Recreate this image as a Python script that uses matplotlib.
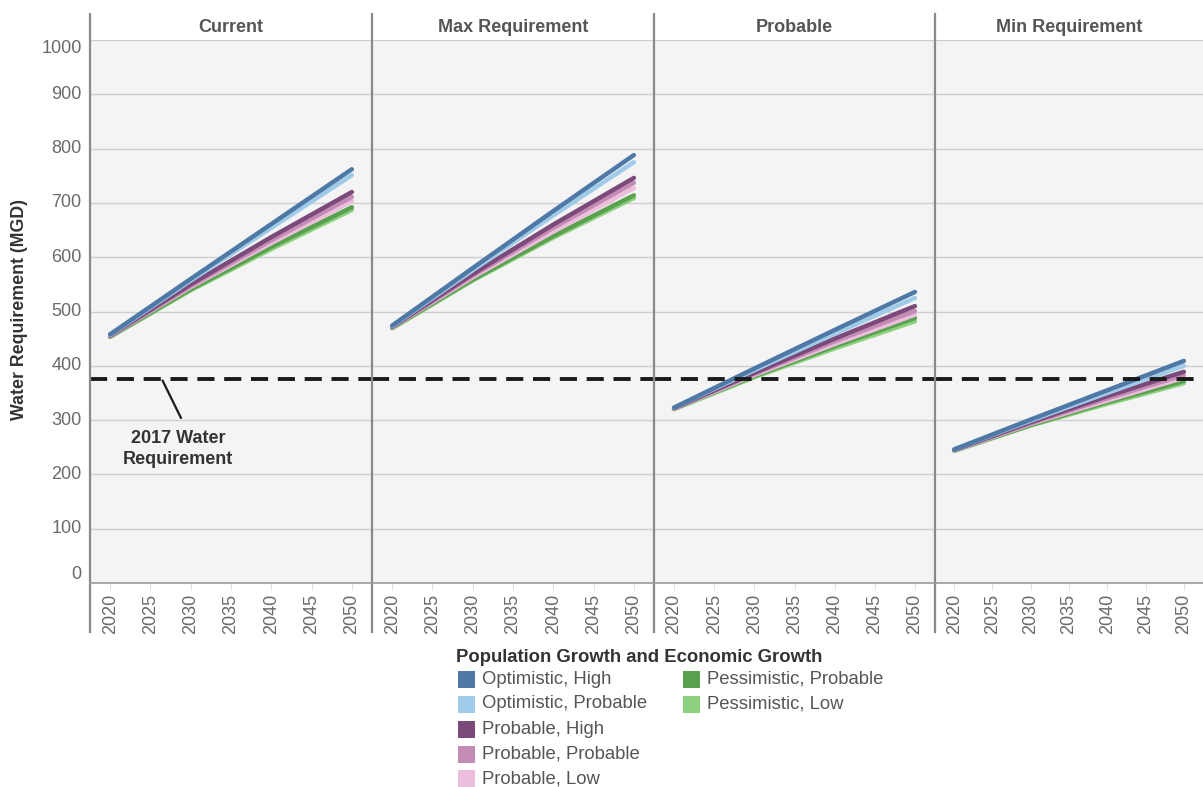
import matplotlib
matplotlib.use("Agg")
import matplotlib.pyplot as plt
from matplotlib.lines import Line2D
from matplotlib.patches import Rectangle

plt.rcParams['font.family'] = ['Liberation Sans', 'DejaVu Sans']

# ---- data ----
panels = ["Current", "Max Requirement", "Probable", "Min Requirement"]
years = [2020, 2030, 2040, 2050]
x_ticks = [2020, 2025, 2030, 2035, 2040, 2045, 2050]
y_ticks = [0, 100, 200, 300, 400, 500, 600, 700, 800, 900, 1000]

series_names = ["Optimistic, High", "Optimistic, Probable", "Probable, High",
                "Probable, Probable", "Probable, Low",
                "Pessimistic, Probable", "Pessimistic, Low"]
series_colors = ["#4e79a7", "#a0cbe8", "#7b4a7a", "#c48bb5", "#ecbedd",
                 "#59a14f", "#8cd17d"]

current = [
    [458, 560, 661, 762],
    [457, 557, 654, 751],
    [456, 550, 637, 720],
    [455, 547, 631, 711],
    [455, 545, 626, 703],
    [454, 541, 619, 692],
    [453, 539, 615, 687],
]
max_req = [
    [474, 580, 685, 788],
    [473, 576, 677, 775],
    [472, 569, 660, 746],
    [471, 566, 654, 737],
    [471, 563, 647, 727],
    [470, 559, 639, 714],
    [469, 557, 636, 709],
]
probable = [
    [323, 395, 466, 536],
    [323, 392, 459, 525],
    [322, 387, 450, 510],
    [322, 385, 445, 501],
    [321, 383, 440, 494],
    [321, 381, 436, 488],
    [320, 379, 432, 482],
]
min_req = [
    [246, 301, 355, 409],
    [246, 299, 350, 400],
    [245, 296, 344, 389],
    [245, 294, 340, 383],
    [244, 293, 336, 378],
    [244, 291, 333, 372],
    [243, 290, 330, 368],
]
panel_data = [current, max_req, probable, min_req]
requirement_2017 = 376

# ---- layout helpers (pixel -> figure fraction) ----
W, H = 1203, 787
def fx(px):
    return px / W
def fy(py):
    return 1 - py / H

fig = plt.figure(figsize=(W / 100, H / 100), dpi=100)

panel_left = [90, 372, 654, 935]
panel_right = [372, 654, 935, 1203]
top_px, bottom_px = 40, 583

tick_color = "#6a6a6a"
axes = []
for i, (name, data) in enumerate(zip(panels, panel_data)):
    l, r = panel_left[i], panel_right[i]
    ax = fig.add_axes([fx(l), fy(bottom_px), fx(r - l), (bottom_px - top_px) / H])
    ax.set_facecolor("#f4f4f4")
    ax.set_xlim(2017.5, 2052.5)
    ax.set_ylim(0, 1000)
    for s in ax.spines.values():
        s.set_visible(False)
    ax.set_yticks(y_ticks)
    ax.grid(axis="y", color="#cfcfcf", linewidth=1.0)
    ax.set_axisbelow(True)
    ax.tick_params(axis="y", length=0, labelleft=False)
    ax.set_xticks(x_ticks)
    ax.set_xticklabels([str(t) for t in x_ticks], rotation=90, fontsize=13,
                       color=tick_color, va="top")
    ax.tick_params(axis="x", length=5, color="#e2e2e2", pad=3)

    # draw in reverse order so the first series sits on top
    for vals, color in reversed(list(zip(data, series_colors))):
        ax.plot(years, vals, color=color, linewidth=3.2,
                solid_capstyle="round", zorder=3)

    ax.axhline(requirement_2017, color="#1a1a1a", linewidth=2.8,
               dashes=(4.4, 2.5), zorder=4)

    fig.text(fx((l + r) / 2), fy(27), name, ha="center", va="center",
             fontsize=13, fontweight="bold", color="#555555")
    axes.append(ax)

# y tick labels, nudged at the ends so they stay inside the panel
ax0 = axes[0]
for v in y_ticks:
    va = "center"
    if v == 0:
        va = "bottom"
    elif v == 1000:
        va = "top"
    ax0.text(-0.03, v, str(v), transform=ax0.get_yaxis_transform(),
             ha="right", va=va, fontsize=13, color=tick_color)

fig.text(fx(20), fy(310), "Water Requirement (MGD)", rotation=90,
         ha="center", va="center", fontsize=12.8, fontweight="bold",
         color="#333333")

# annotation for the 2017 requirement line: leader line plus label
ax0.annotate("", xy=(2026.5, requirement_2017 - 3), xycoords="data",
             xytext=(fx(181), fy(418)), textcoords="figure fraction",
             arrowprops=dict(arrowstyle="-", color="#1a1a1a", lw=1.6,
                             shrinkA=0, shrinkB=0))
fig.text(fx(178), fy(449), "2017 Water\nRequirement", ha="center",
         va="center", fontsize=13, fontweight="bold", color="#333333",
         linespacing=1.3)

# frame lines: panel separators and the x-axis baseline
for xp in panel_left:
    fig.add_artist(Line2D([fx(xp), fx(xp)], [fy(14), fy(632)],
                          color="#8a8a8a", linewidth=1.6))
fig.add_artist(Line2D([fx(90), fx(1203)], [fy(583), fy(583)],
                      color="#9a9a9a", linewidth=1.2))

# legend
fig.text(fx(456), fy(657), "Population Growth and Economic Growth",
         ha="left", va="center", fontsize=13.3, fontweight="bold",
         color="#333333")
row_y = [679, 704, 729, 754, 779]
for i, (name, color) in enumerate(zip(series_names, series_colors)):
    if i < 5:
        sx, ty = 458, row_y[i]
    else:
        sx, ty = 683, row_y[i - 5]
    fig.add_artist(Rectangle((fx(sx), fy(ty + 8.5)), fx(17), 17 / H,
                             facecolor=color, edgecolor="none",
                             transform=fig.transFigure))
    fig.text(fx(sx + 24), fy(ty), name, ha="left", va="center",
             fontsize=13.3, color="#555555")

fig.savefig("out.png", dpi=100)
